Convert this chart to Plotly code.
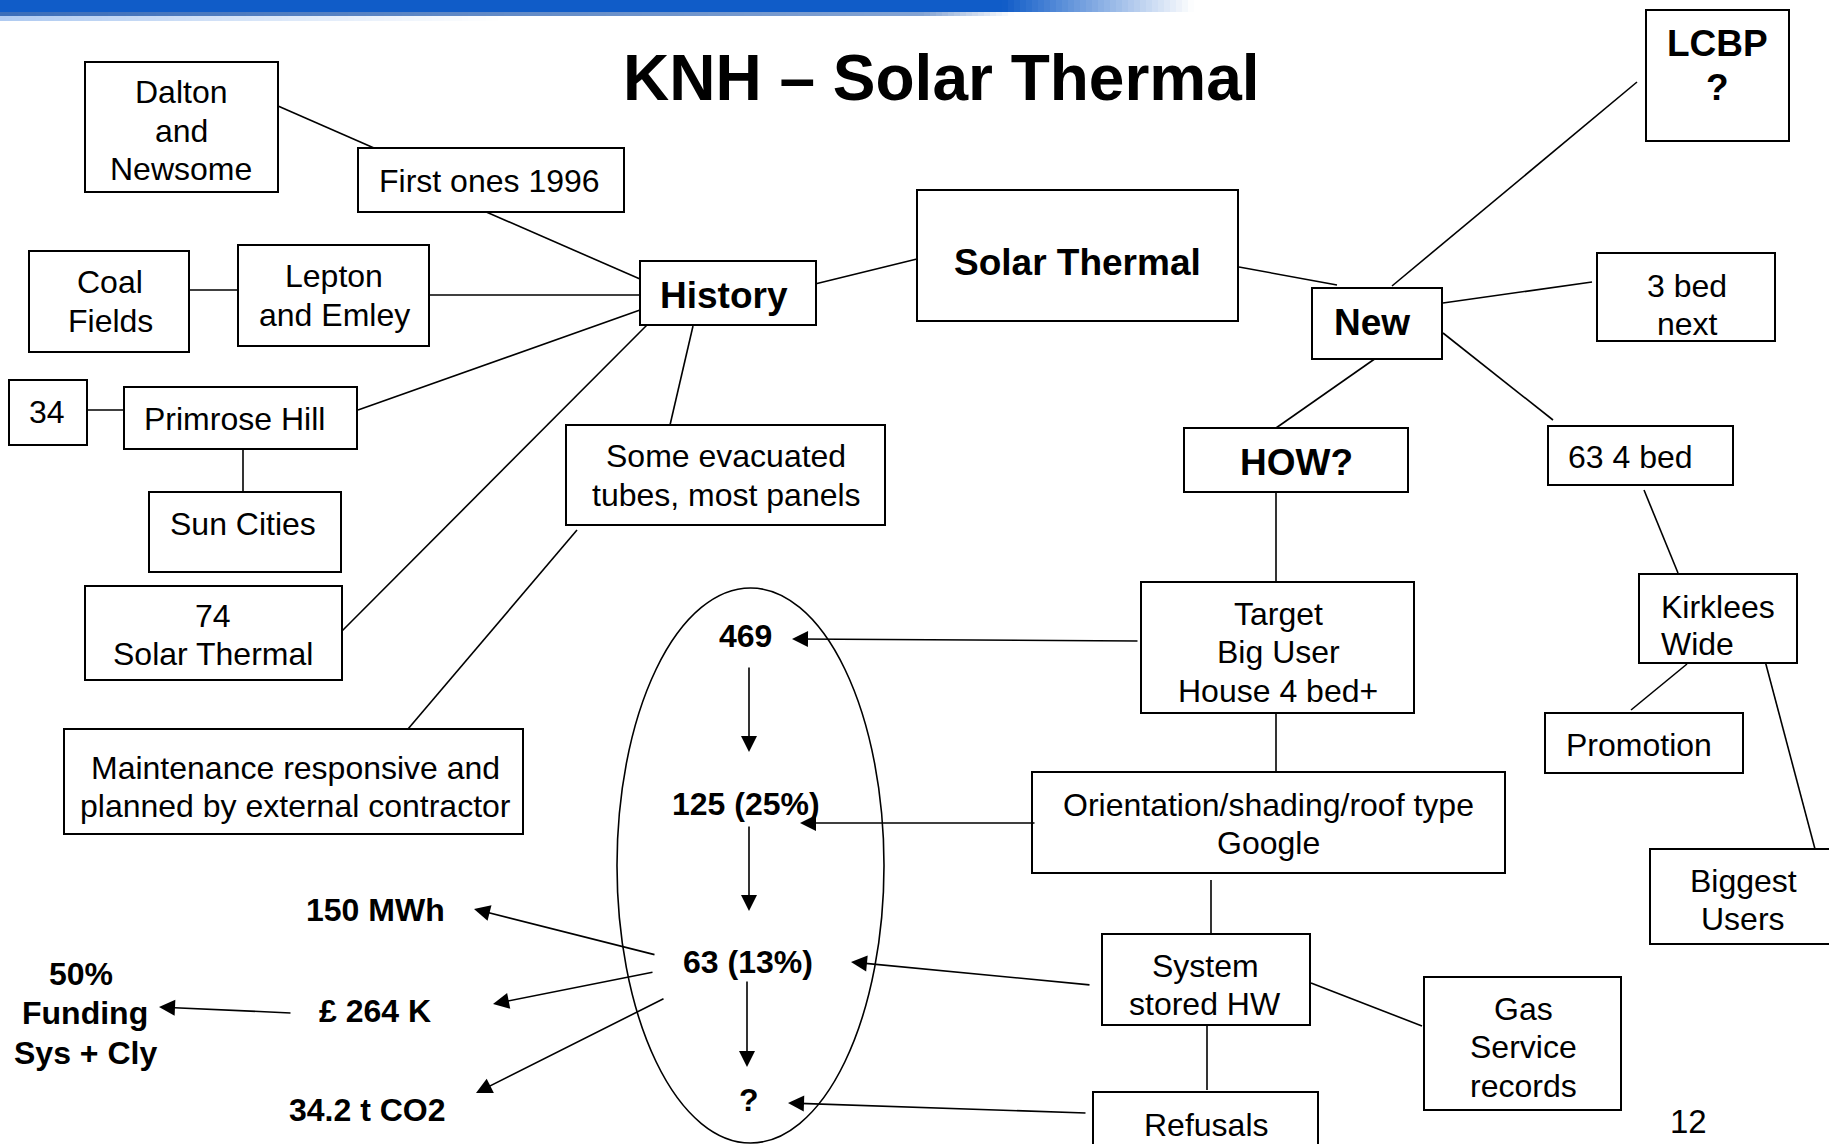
import plotly.graph_objects as go

FONT = "Liberation Sans, Arial, Helvetica, sans-serif"

# ---------------- content ----------------
TITLE = "KNH – Solar Thermal"
PAGE_NO = "12"

box_lines = [
    ["Dalton", "and", "Newsome"],
    ["First ones 1996"],
    ["Coal", "Fields"],
    ["Lepton", "and Emley"],
    ["History"],
    ["Solar Thermal"],
    ["34"],
    ["Primrose Hill"],
    ["Sun Cities"],
    ["74", "Solar Thermal"],
    ["Some evacuated", "tubes, most panels"],
    ["Maintenance responsive and", "planned by external contractor"],
    ["LCBP", "?"],
    ["New"],
    ["3 bed", "next"],
    ["HOW?"],
    ["63 4 bed"],
    ["Target", "Big User", "House 4 bed+"],
    ["Kirklees", "Wide"],
    ["Promotion"],
    ["Orientation/shading/roof type", "Google"],
    ["Biggest", "Users"],
    ["System", "stored HW"],
    ["Gas", "Service", "records"],
    ["Refusals"],
]
box_bold = [False, False, False, False, True, True, False, False, False, False,
            False, False, True, True, False, True, False, False, False, False,
            False, False, False, False, False]

funnel_labels = ["469", "125 (25%)", "63 (13%)", "?"]
outcome_labels = ["150 MWh", "£ 264 K", "34.2 t CO2"]
funding_lines = ["50%", "Funding", "Sys + Cly"]

# ---------------- geometry (page pixels) ----------------
box_rects = [
    (85, 62, 278, 192), (358, 148, 624, 212), (29, 251, 189, 352), (238, 245, 429, 346),
    (640, 261, 816, 325), (917, 190, 1238, 321), (9, 380, 87, 445), (124, 387, 357, 449),
    (149, 492, 341, 572), (85, 586, 342, 680), (566, 425, 885, 525), (64, 729, 523, 834),
    (1646, 10, 1789, 141), (1312, 288, 1442, 359), (1597, 253, 1775, 341), (1184, 428, 1408, 492),
    (1548, 426, 1733, 485), (1141, 582, 1414, 713), (1639, 574, 1797, 663), (1545, 713, 1743, 773),
    (1032, 772, 1505, 873), (1650, 849, 1845, 944), (1102, 934, 1310, 1025), (1424, 977, 1621, 1110),
    (1093, 1092, 1318, 1170),
]
text_x = [181, 489, 110, 334, 724, 1077, 47, 234, 243, 213, 726, 295, 1717, 1372, 1687, 1296,
          1630, 1278, 1659, 1639, 1268, 1743, 1205, 1523, 1206]
text_y = [[92, 131, 169], [181], [282, 321], [276, 315], [295], [262], [412], [419], [524],
          [616, 654], [456, 495], [768, 806], [43, 87], [322], [286, 324], [462], [457],
          [614, 652, 691], [607, 644], [745], [805, 843], [881, 919], [966, 1004],
          [1009, 1047, 1086], [1125]]
text_anchor = ["center"] * 25
text_anchor[18] = "left"

connectors = [
    (278, 106, 374, 148), (484, 211, 640, 279), (189, 290, 238, 290), (429, 295, 640, 295),
    (87, 410, 124, 410), (358, 410, 640, 310), (243, 449, 243, 492), (342, 631, 647, 325),
    (693, 326, 670, 425), (577, 530, 408, 729), (815, 284, 921, 258), (1239, 267, 1337, 285),
    (1392, 286, 1637, 82), (1443, 303, 1592, 282), (1376, 358, 1276, 428), (1443, 333, 1553, 420),
    (1276, 492, 1276, 582), (1644, 490, 1678, 573), (1687, 664, 1631, 710), (1764, 657, 1815, 849),
    (1276, 713, 1276, 772), (1211, 880, 1211, 940), (1311, 983, 1422, 1026), (1207, 1026, 1207, 1090),
]

ellipse = (617, 588, 884, 1143)
funnel_xy = [(745, 636), (746, 804), (748, 962), (749, 1100)]
outcome_xy = [(375, 910), (375, 1011), (367, 1110)]
funding_xy = [(81, 974), (85, 1013), (85, 1053)]

# arrows: (tail_x, tail_y, tip_x, tip_y)
arrows = [
    (749, 666, 749, 752), (749, 825, 749, 911), (747, 980, 747, 1067),
    (656, 955, 474, 909), (654, 972, 493, 1004), (665, 998, 476, 1093),
    (292, 1013, 159, 1007),
    (1139, 641, 792, 639), (1036, 823, 800, 823), (1091, 985, 851, 962), (1087, 1113, 788, 1103),
]

# ---------------- figure ----------------
W, H = 1829, 1144
fig = go.Figure()
shapes = []
annotations = []

# top banner (gradient swoosh)
def blend(c, t):
    t = max(0.0, min(1.0, t))
    return "rgb(%d,%d,%d)" % tuple(int(ci + (255 - ci) * t) for ci in c)

step = 6
for x in range(0, 1200, step):
    t1 = 0 if x < 1000 else (x - 1000) / 190
    t2 = 0.0 if x < 920 else (x - 920) / 150
    t3 = 0.45 + x / 900
    shapes.append(dict(type="rect", x0=x, x1=x + step, y0=0, y1=12, line_width=0,
                       fillcolor=blend((16, 92, 200), t1), layer="below"))
    shapes.append(dict(type="rect", x0=x, x1=x + step, y0=12, y1=16, line_width=0,
                       fillcolor=blend((60, 110, 185), t2 + x / 2500), layer="below"))
    shapes.append(dict(type="rect", x0=x, x1=x + step, y0=16, y1=21, line_width=0,
                       fillcolor=blend((110, 160, 230), t3), layer="below"))

for (x0, y0, x1, y1) in connectors:
    shapes.append(dict(type="line", x0=x0, y0=y0, x1=x1, y1=y1,
                       line=dict(color="black", width=1.6)))

ex0, ey0, ex1, ey1 = ellipse
shapes.append(dict(type="circle", x0=ex0, y0=ey0, x1=ex1, y1=ey1,
                   line=dict(color="black", width=1.6)))

for (x0, y0, x1, y1) in box_rects:
    shapes.append(dict(type="rect", x0=x0, y0=y0, x1=x1, y1=y1,
                       line=dict(color="black", width=2), fillcolor="white"))

def txt(x, y, s, size, bold=False, anchor="center"):
    annotations.append(dict(x=x, y=y, xref="x", yref="y", text=("<b>%s</b>" % s) if bold else s,
                            showarrow=False, xanchor=anchor, yanchor="middle",
                            font=dict(family=FONT, size=size, color="black")))

for lines, bold, tx, tys, anc in zip(box_lines, box_bold, text_x, text_y, text_anchor):
    for line, ty in zip(lines, tys):
        txt(tx, ty, line, 37 if bold else 32, bold, anc)

for s, (x, y) in zip(funnel_labels, funnel_xy):
    txt(x, y, s, 32, True)
for s, (x, y) in zip(outcome_labels, outcome_xy):
    txt(x, y, s, 32, True)
for s, (x, y) in zip(funding_lines, funding_xy):
    txt(x, y, s, 32, True)

txt(941, 78, TITLE, 64, True)
txt(1688, 1121, PAGE_NO, 33)

for (tx0, ty0, tx1, ty1) in arrows:
    annotations.append(dict(x=tx1, y=ty1, ax=tx0, ay=ty0, xref="x", yref="y",
                            axref="x", ayref="y", text="", showarrow=True,
                            arrowhead=2, arrowsize=2.0, arrowwidth=1.6,
                            arrowcolor="black", standoff=0, startstandoff=0))

fig.update_layout(
    width=W, height=H,
    margin=dict(l=0, r=0, t=0, b=0, pad=0),
    paper_bgcolor="white", plot_bgcolor="white",
    xaxis=dict(range=[0, W], visible=False, fixedrange=True),
    yaxis=dict(range=[H, 0], visible=False, fixedrange=True),
    shapes=shapes, annotations=annotations, showlegend=False,
)

fig.write_html(
    "out.html",
    config={"displayModeBar": False},
    post_script="document.body.style.margin='0';document.body.style.overflow='hidden';",
)
